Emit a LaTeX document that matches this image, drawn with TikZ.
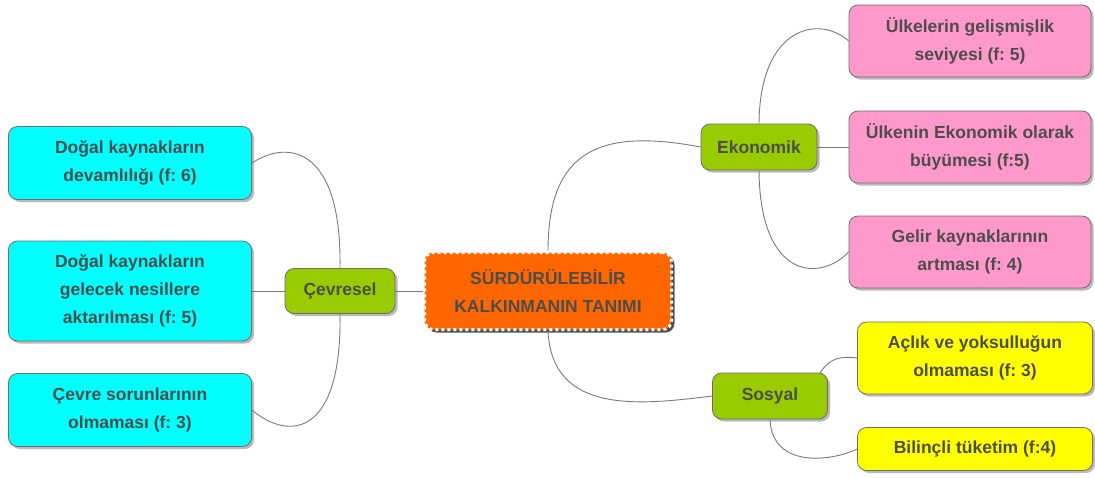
\documentclass[tikz,border=0pt]{standalone}
\usepackage{fontspec}
\setmainfont{Liberation Sans}
\frenchspacing
\usetikzlibrary{shadows}
\definecolor{txtgray}{HTML}{4D4D4D}
\definecolor{boxline}{HTML}{6E6E6E}
\definecolor{linegray}{HTML}{7A7A7A}
\definecolor{orangefill}{HTML}{FF6600}
\definecolor{greenfill}{HTML}{99CC00}
\definecolor{cyanfill}{HTML}{00FFFF}
\definecolor{pinkfill}{HTML}{FF99CC}
\definecolor{yellowfill}{HTML}{FFFF00}
\tikzset{
  box/.style={draw=boxline, line width=0.8pt, rounded corners=9pt, align=center,
    text=txtgray, inner sep=0pt, font=\fontsize{17.5}{28}\selectfont\bfseries,
    drop shadow={shadow xshift=2.5pt, shadow yshift=-2.5pt, fill=black!45, opacity=0.6}},
  topic/.style={box, fill=greenfill},
  leaf/.style={box, minimum width=243pt, minimum height=73pt},
  link/.style={draw=linegray, line width=0.9pt}
}

\begin{document}
\begin{tikzpicture}[x=1pt,y=-1pt]
\useasboundingbox (0,0) rectangle (1095,477);

% centre
\node[box, fill=orangefill, draw=white, dash pattern=on 3pt off 3pt, line width=3pt,
  minimum width=247pt, minimum height=77pt,
  drop shadow={shadow xshift=3pt, shadow yshift=-3pt, fill=black!80, opacity=0.8}]
  (tanim) at (548,291) {SÜRDÜRÜLEBİLİR\\KALKINMANIN TANIMI};

% main topics
\node[topic, minimum width=110pt, minimum height=45pt] (cevre) at (340,291) {Çevresel};
\node[topic, minimum width=116pt, minimum height=46pt] (ekonomi) at (759,147) {Ekonomik};
\node[topic, minimum width=115pt, minimum height=46pt] (sosyal) at (770,396) {Sosyal};

% cevresel
\node[leaf, fill=cyanfill] (c1) at (130,163) {Doğal kaynakların\\devamlılığı (f: 6)};
\node[leaf, fill=cyanfill, minimum height=100pt] (c2) at (130,291) {Doğal kaynakların\\gelecek nesillere\\aktarılması (f: 5)};
\node[leaf, fill=cyanfill] (c3) at (130,410) {Çevre sorunlarının\\olmaması (f: 3)};

% ekonomik
\node[leaf, fill=pinkfill, minimum width=242pt, minimum height=72pt] (e1) at (970,41) {Ülkelerin gelişmişlik\\seviyesi (f: 5)};
\node[leaf, fill=pinkfill, minimum width=242pt, minimum height=72pt] (e2) at (970,147) {Ülkenin Ekonomik olarak\\büyümesi (f:5)};
\node[leaf, fill=pinkfill, minimum width=242pt, minimum height=72pt] (e3) at (970,252) {Gelir kaynaklarının\\artması (f: 4)};

% sosyal
\node[leaf, fill=yellowfill, minimum width=235pt, minimum height=72pt] (s1) at (975,358) {Açlık ve yoksulluğun\\olmaması (f: 3)};
\node[leaf, fill=yellowfill, minimum width=235pt, minimum height=43pt] (s2) at (975,449) {Bilinçli tüketim (f:4)};

% connectors
\draw[link] (tanim.west) -- (cevre.east);
\draw[link] (tanim.north) .. controls (548,150) and (600,128) .. (ekonomi.west);
\draw[link] (tanim.south) .. controls (552,415) and (640,405) .. (sosyal.west);

\draw[link] (cevre.north) .. controls (342,150) and (290,138) .. (c1.east);
\draw[link] (cevre.west) -- (c2.east);
\draw[link] (cevre.south) .. controls (342,435) and (290,442) .. (c3.east);

\draw[link] (ekonomi.north) .. controls (760,25) and (820,15) .. (e1.west);
\draw[link] (ekonomi.east) -- (e2.west);
\draw[link] (ekonomi.south) .. controls (760,280) and (820,282) .. (e3.west);

\draw[link] (sosyal.25) .. controls (830,358) and (840,356) .. (s1.west);
\draw[link] (sosyal.south) .. controls (772,468) and (830,462) .. (s2.west);
\end{tikzpicture}
\end{document}
